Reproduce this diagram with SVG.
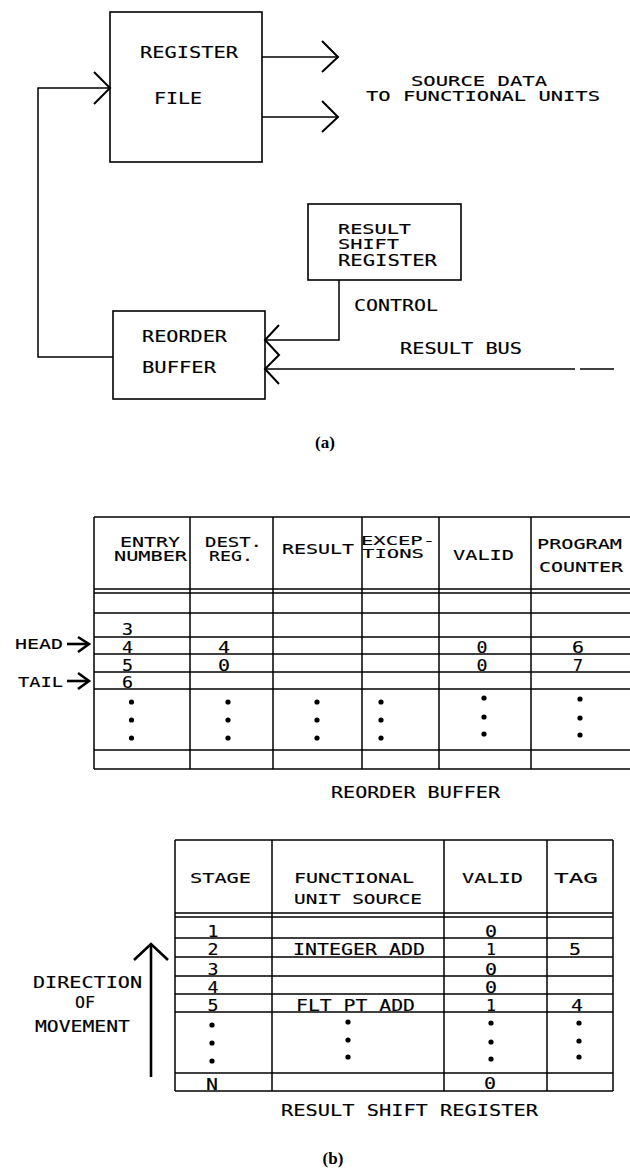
<svg xmlns="http://www.w3.org/2000/svg" width="630" height="1169" viewBox="0 0 630 1169">
<style>
.bg{fill:#fff}
.box{fill:none;stroke:#000;stroke-width:1.6}
.ln{fill:none;stroke:#000;stroke-width:1.5}
.hd{fill:none;stroke:#000;stroke-width:2;stroke-linejoin:miter}
.hd2{fill:none;stroke:#000;stroke-width:2.6}
.t{font-family:"DejaVu Sans Mono","Liberation Mono",monospace;fill:#000;stroke:#000;stroke-width:0.15}
.s13{font-size:13px}
.s14{font-size:14px}
.s15{font-size:15px}
.s16{font-size:16px}
.c{text-anchor:middle}
.cap{font-family:"Liberation Serif",serif;font-weight:bold;fill:#000;text-anchor:middle;font-size:17px}
.dot{fill:#000}
</style>
<rect class="bg" x="0" y="0" width="630" height="1169"/>

<!-- (a) part -->
<g id="register-file">
<rect class="box" x="110" y="12" width="152" height="150"/>
<text class="t s16" x="140" y="58" textLength="98" lengthAdjust="spacingAndGlyphs">REGISTER</text>
<text class="t s16" x="154" y="104" textLength="48" lengthAdjust="spacingAndGlyphs">FILE</text>
</g>
<g id="source-data-label">
<text class="t s14" x="411" y="86" textLength="136" lengthAdjust="spacingAndGlyphs">SOURCE DATA</text>
<text class="t s14" x="366" y="101" textLength="234" lengthAdjust="spacingAndGlyphs">TO FUNCTIONAL UNITS</text>
</g>
<g id="result-shift-register-box">
<rect class="box" x="308" y="204" width="153" height="76"/>
<text class="t s14" x="338" y="234" textLength="73" lengthAdjust="spacingAndGlyphs">RESULT</text>
<text class="t s14" x="338" y="249" textLength="61" lengthAdjust="spacingAndGlyphs">SHIFT</text>
<text class="t s15" x="338" y="266" textLength="99" lengthAdjust="spacingAndGlyphs">REGISTER</text>
</g>
<g id="reorder-buffer-box">
<rect class="box" x="113" y="311" width="152" height="88"/>
<text class="t s16" x="142" y="342" textLength="85" lengthAdjust="spacingAndGlyphs">REORDER</text>
<text class="t s16" x="142" y="373" textLength="74" lengthAdjust="spacingAndGlyphs">BUFFER</text>
</g>
<g id="connectors">
<line class="ln" x1="262" y1="57" x2="338" y2="57"/>
<polyline class="hd" points="322,41 338,57 322,72"/>
<line class="ln" x1="262" y1="117" x2="338" y2="117"/>
<polyline class="hd" points="322,101 338,117 322,132"/>
<polyline class="ln" points="113,357 38,357 38,88 110,88"/>
<polyline class="hd" points="94,72 110,88 94,104"/>
<polyline class="ln" points="339,280 339,340 265,340"/>
<line class="ln" x1="265" y1="369" x2="575" y2="369"/>
<line class="ln" x1="580" y1="369" x2="614" y2="369"/>
<polyline class="hd" points="279,325 265,340 279,355 265,369 279,384"/>
<text class="t s16" x="354" y="311" textLength="84" lengthAdjust="spacingAndGlyphs">CONTROL</text>
<text class="t s15" x="400" y="354" textLength="122" lengthAdjust="spacingAndGlyphs">RESULT BUS</text>
</g>
<text class="cap" x="325" y="448">(a)</text>

<!-- (b) reorder buffer table -->
<g id="reorder-buffer-table">
<g class="ln">
<line x1="94" y1="517" x2="630" y2="517"/>
<line x1="94" y1="589" x2="630" y2="589"/>
<line x1="94" y1="593" x2="630" y2="593"/>
<line x1="94" y1="613" x2="630" y2="613"/>
<line x1="94" y1="637" x2="630" y2="637"/>
<line x1="94" y1="654" x2="630" y2="654"/>
<line x1="94" y1="672" x2="630" y2="672"/>
<line x1="94" y1="689" x2="630" y2="689"/>
<line x1="94" y1="750" x2="630" y2="750"/>
<line x1="94" y1="769" x2="630" y2="769"/>
<line x1="94" y1="517" x2="94" y2="769"/>
<line x1="190" y1="517" x2="190" y2="769"/>
<line x1="273" y1="517" x2="273" y2="769"/>
<line x1="362" y1="517" x2="362" y2="769"/>
<line x1="439" y1="517" x2="439" y2="769"/>
<line x1="531" y1="517" x2="531" y2="769"/>
</g>
<text class="t s14" x="120" y="547" textLength="60" lengthAdjust="spacingAndGlyphs">ENTRY</text>
<text class="t s14" x="114" y="561" textLength="73" lengthAdjust="spacingAndGlyphs">NUMBER</text>
<text class="t s14" x="205" y="547" textLength="57" lengthAdjust="spacingAndGlyphs">DEST.</text>
<text class="t s14" x="209" y="561" textLength="44" lengthAdjust="spacingAndGlyphs">REG.</text>
<text class="t s14" x="282" y="554" textLength="72" lengthAdjust="spacingAndGlyphs">RESULT</text>
<text class="t s13" x="361" y="545" textLength="74" lengthAdjust="spacingAndGlyphs">EXCEP-</text>
<text class="t s13" x="362" y="558" textLength="62" lengthAdjust="spacingAndGlyphs">TIONS</text>
<text class="t s14" x="453" y="560" textLength="61" lengthAdjust="spacingAndGlyphs">VALID</text>
<text class="t s14" x="537" y="549" textLength="85" lengthAdjust="spacingAndGlyphs">PROGRAM</text>
<text class="t s14" x="539" y="572" textLength="84" lengthAdjust="spacingAndGlyphs">COUNTER</text>
<text class="t s15 c" x="127.5" y="635" textLength="11" lengthAdjust="spacingAndGlyphs">3</text>
<text class="t s15 c" x="127.5" y="653" textLength="11" lengthAdjust="spacingAndGlyphs">4</text>
<text class="t s15 c" x="127.5" y="671" textLength="11" lengthAdjust="spacingAndGlyphs">5</text>
<text class="t s15 c" x="127.5" y="688" textLength="11" lengthAdjust="spacingAndGlyphs">6</text>
<text class="t s15 c" x="224" y="653" textLength="12" lengthAdjust="spacingAndGlyphs">4</text>
<text class="t s15 c" x="224" y="671" textLength="12" lengthAdjust="spacingAndGlyphs">0</text>
<text class="t s15 c" x="482" y="653" textLength="11" lengthAdjust="spacingAndGlyphs">0</text>
<text class="t s15 c" x="482" y="671" textLength="11" lengthAdjust="spacingAndGlyphs">0</text>
<text class="t s15 c" x="578" y="653" textLength="12" lengthAdjust="spacingAndGlyphs">6</text>
<text class="t s15 c" x="578" y="671" textLength="10" lengthAdjust="spacingAndGlyphs">7</text>
<g class="dot">
<circle cx="131.5" cy="702" r="2.6"/><circle cx="131.5" cy="720" r="2.6"/><circle cx="131.5" cy="738" r="2.6"/>
<circle cx="228" cy="702" r="2.6"/><circle cx="228" cy="720" r="2.6"/><circle cx="228" cy="738" r="2.6"/>
<circle cx="317" cy="702" r="2.6"/><circle cx="317" cy="720" r="2.6"/><circle cx="317" cy="738" r="2.6"/>
<circle cx="381" cy="702" r="2.6"/><circle cx="381" cy="720" r="2.6"/><circle cx="381" cy="738" r="2.6"/>
<circle cx="484" cy="698" r="2.6"/><circle cx="484" cy="717" r="2.6"/><circle cx="484" cy="734" r="2.6"/>
<circle cx="580" cy="699" r="2.6"/><circle cx="580" cy="718" r="2.6"/><circle cx="580" cy="735" r="2.6"/>
</g>
<text class="t s15" x="331" y="798" textLength="169" lengthAdjust="spacingAndGlyphs">REORDER BUFFER</text>
</g>
<g id="head-pointer">
<text class="t s14" x="15" y="649" textLength="48" lengthAdjust="spacingAndGlyphs">HEAD</text>
<line class="hd2" x1="67" y1="644" x2="88" y2="644"/>
<polyline class="hd2" points="78,637 89,644 78,652"/>
</g>
<g id="tail-pointer">
<text class="t s14" x="18" y="687" textLength="45" lengthAdjust="spacingAndGlyphs">TAIL</text>
<line class="hd2" x1="67" y1="681" x2="88" y2="681"/>
<polyline class="hd2" points="78,673 89,681 78,689"/>
</g>

<!-- (b) result shift register table -->
<g id="result-shift-register-table">
<g class="ln">
<line x1="175" y1="840" x2="613" y2="840"/>
<line x1="175" y1="913" x2="613" y2="913"/>
<line x1="175" y1="917" x2="613" y2="917"/>
<line x1="175" y1="938" x2="613" y2="938"/>
<line x1="175" y1="957" x2="613" y2="957"/>
<line x1="175" y1="976" x2="613" y2="976"/>
<line x1="175" y1="994" x2="613" y2="994"/>
<line x1="175" y1="1012" x2="613" y2="1012"/>
<line x1="175" y1="1073" x2="613" y2="1073"/>
<line x1="175" y1="1091" x2="613" y2="1091"/>
<line x1="175" y1="840" x2="175" y2="1091"/>
<line x1="272" y1="840" x2="272" y2="1091"/>
<line x1="444" y1="840" x2="444" y2="1091"/>
<line x1="547" y1="840" x2="547" y2="1091"/>
<line x1="613" y1="840" x2="613" y2="1091"/>
</g>
<text class="t s14" x="190" y="883" textLength="61" lengthAdjust="spacingAndGlyphs">STAGE</text>
<text class="t s14" x="294" y="883" textLength="120" lengthAdjust="spacingAndGlyphs">FUNCTIONAL</text>
<text class="t s14" x="294" y="904" textLength="128" lengthAdjust="spacingAndGlyphs">UNIT SOURCE</text>
<text class="t s14" x="462" y="883" textLength="61" lengthAdjust="spacingAndGlyphs">VALID</text>
<text class="t s14" x="554" y="883" textLength="44" lengthAdjust="spacingAndGlyphs">TAG</text>
<text class="t s15 c" x="213" y="937" textLength="11" lengthAdjust="spacingAndGlyphs">1</text>
<text class="t s15 c" x="213" y="955" textLength="11" lengthAdjust="spacingAndGlyphs">2</text>
<text class="t s15 c" x="213" y="975" textLength="11" lengthAdjust="spacingAndGlyphs">3</text>
<text class="t s15 c" x="213" y="993" textLength="11" lengthAdjust="spacingAndGlyphs">4</text>
<text class="t s15 c" x="213" y="1011" textLength="11" lengthAdjust="spacingAndGlyphs">5</text>
<text class="t s15 c" x="212" y="1090" textLength="12" lengthAdjust="spacingAndGlyphs">N</text>
<text class="t s15" x="293" y="955" textLength="132" lengthAdjust="spacingAndGlyphs">INTEGER ADD</text>
<text class="t s15" x="296" y="1011" textLength="119" lengthAdjust="spacingAndGlyphs">FLT PT ADD</text>
<text class="t s15 c" x="491" y="937" textLength="12" lengthAdjust="spacingAndGlyphs">0</text>
<text class="t s15 c" x="491" y="955" textLength="10" lengthAdjust="spacingAndGlyphs">1</text>
<text class="t s15 c" x="491" y="975" textLength="12" lengthAdjust="spacingAndGlyphs">0</text>
<text class="t s15 c" x="491" y="993" textLength="12" lengthAdjust="spacingAndGlyphs">0</text>
<text class="t s15 c" x="491" y="1011" textLength="10" lengthAdjust="spacingAndGlyphs">1</text>
<text class="t s15 c" x="490" y="1089" textLength="12" lengthAdjust="spacingAndGlyphs">0</text>
<text class="t s15 c" x="575" y="955" textLength="12" lengthAdjust="spacingAndGlyphs">5</text>
<text class="t s15 c" x="577" y="1011" textLength="12" lengthAdjust="spacingAndGlyphs">4</text>
<g class="dot">
<circle cx="212" cy="1025" r="2.6"/><circle cx="212" cy="1043" r="2.6"/><circle cx="212" cy="1061" r="2.6"/>
<circle cx="348" cy="1022" r="2.6"/><circle cx="348" cy="1040" r="2.6"/><circle cx="348" cy="1057" r="2.6"/>
<circle cx="491" cy="1023" r="2.6"/><circle cx="491" cy="1042" r="2.6"/><circle cx="491" cy="1059" r="2.6"/>
<circle cx="579" cy="1023" r="2.6"/><circle cx="579" cy="1041" r="2.6"/><circle cx="579" cy="1057" r="2.6"/>
</g>
<text class="t s16" x="281" y="1116" textLength="257" lengthAdjust="spacingAndGlyphs">RESULT SHIFT REGISTER</text>
</g>
<g id="direction-of-movement">
<line class="hd2" x1="151" y1="946" x2="151" y2="1077"/>
<polyline class="hd2" points="134,960 151,944 168,960"/>
<text class="t s15" x="33" y="988" textLength="109" lengthAdjust="spacingAndGlyphs">DIRECTION</text>
<text class="t s15" x="75" y="1008" textLength="20" lengthAdjust="spacingAndGlyphs">OF</text>
<text class="t s15" x="35" y="1032" textLength="95" lengthAdjust="spacingAndGlyphs">MOVEMENT</text>
</g>
<text class="cap" x="333" y="1164">(b)</text>
</svg>
